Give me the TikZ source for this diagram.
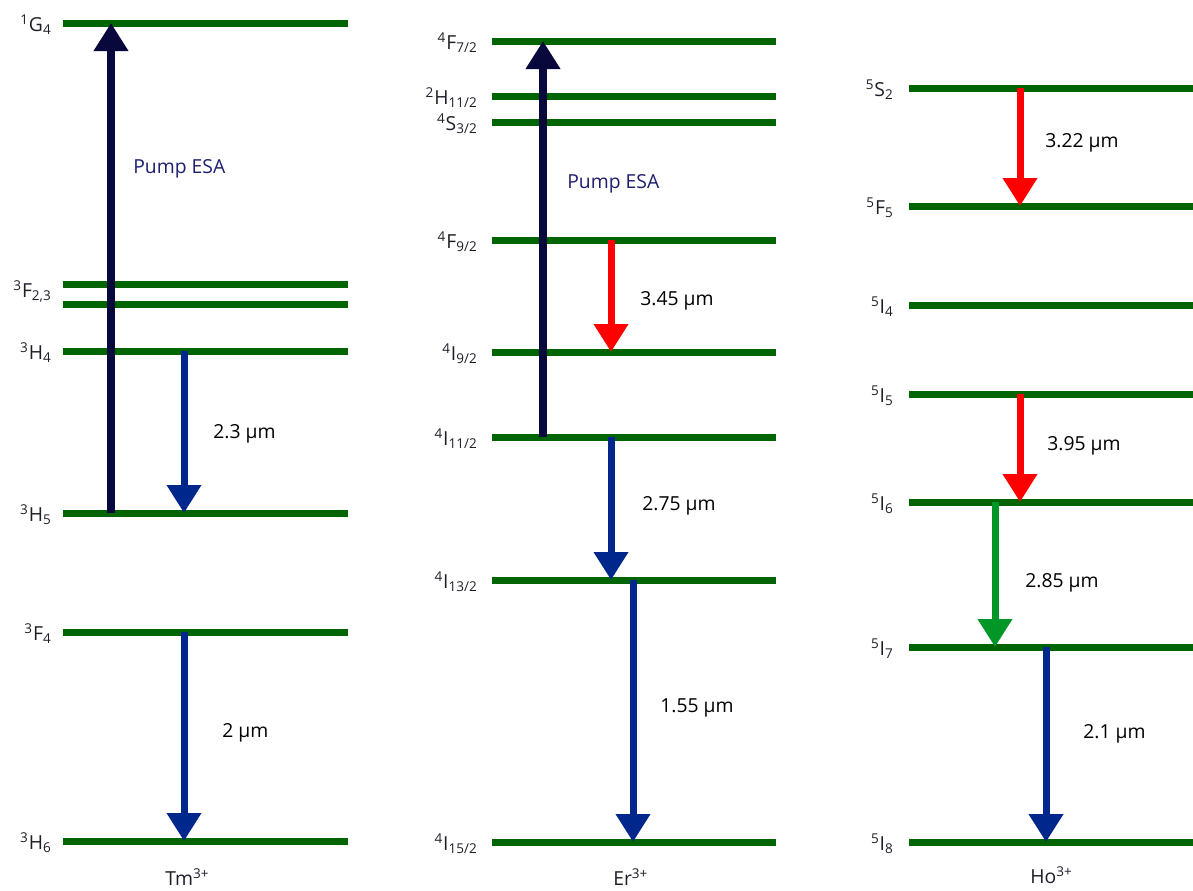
\documentclass[tikz,border=0pt]{standalone}
\usepackage{fontspec}
\setmainfont{Open Sans}
\usetikzlibrary{arrows.meta}

\definecolor{levelgreen}{RGB}{0,100,0}
\definecolor{pumpnavy}{RGB}{8,8,60}
\definecolor{pumptext}{RGB}{30,30,110}
\definecolor{emitblue}{RGB}{0,40,140}
\definecolor{emitred}{RGB}{255,0,0}
\definecolor{emitgreen}{RGB}{0,150,40}
\definecolor{labelgray}{RGB}{30,30,40}

\newcommand{\lblfont}{\fontsize{11}{13}\selectfont}

\begin{document}
\begin{tikzpicture}[x=0.02cm, y=-0.02cm,
        level/.style = {draw=levelgreen, line width=0.14cm},
        lvl/.style = {anchor=base east, inner sep=0pt, text=labelgray, font=\lblfont},
        wl/.style = {anchor=base west, inner sep=0pt, font=\lblfont},
        ion/.style = {anchor=base west, inner sep=0pt, text=labelgray, font=\lblfont},
        transition/.style = {line width=0.14cm,
            -{Triangle[length=0.56cm, width=0.66cm]}},
        pump/.style = {transition, draw=pumpnavy, line width=0.17cm},
        emit/.style = {transition, draw=#1}]

    \useasboundingbox (0,0) rectangle (1193,890);

    % Tm levels
    \foreach \n/\y/\t in {G4/23/{\textsuperscript{1}G\textsubscript{4}},
                          H4/351/{\textsuperscript{3}H\textsubscript{4}},
                          H5/513/{\textsuperscript{3}H\textsubscript{5}},
                          F4/632/{\textsuperscript{3}F\textsubscript{4}},
                          H6/841/{\textsuperscript{3}H\textsubscript{6}}} {
        \coordinate (tm\n) at (63,\y);
        \draw[level] (tm\n) -- ++(285,0);
        \node[lvl] (tm\n-lab) at (52,\y+8) {\t};
    }
    % the close pair 3F2 / 3F3 share one label
    \coordinate (tmF2) at (63,284);
    \coordinate (tmF3) at (63,304);
    \draw[level] (tmF2) -- ++(285,0);
    \draw[level] (tmF3) -- ++(285,0);
    \node[lvl] (tmF23-lab) at (52,297) {\textsuperscript{3}F\textsubscript{2,3}};
    \node[ion] (tm) at (165,885) {Tm\textsuperscript{3+}};

    % Er levels
    \foreach \n/\y/\t in {F72/41/{\textsuperscript{4}F\textsubscript{7/2}},
                          H112/96/{\textsuperscript{2}H\textsubscript{11/2}},
                          S32/122/{\textsuperscript{4}S\textsubscript{3/2}},
                          F92/240/{\textsuperscript{4}F\textsubscript{9/2}},
                          I92/352/{\textsuperscript{4}I\textsubscript{9/2}},
                          I112/437/{\textsuperscript{4}I\textsubscript{11/2}},
                          I132/580/{\textsuperscript{4}I\textsubscript{13/2}},
                          I152/842/{\textsuperscript{4}I\textsubscript{15/2}}} {
        \coordinate (er\n) at (492,\y);
        \draw[level] (er\n) -- ++(284,0);
        \node[lvl] (er\n-lab) at (478,\y+8) {\t};
    }
    \node[ion] (er) at (613,885) {Er\textsuperscript{3+}};

    % Ho levels
    \foreach \n/\y/\t in {S2/88/{\textsuperscript{5}S\textsubscript{2}},
                          F5/206/{\textsuperscript{5}F\textsubscript{5}},
                          I4/305/{\textsuperscript{5}I\textsubscript{4}},
                          I5/394/{\textsuperscript{5}I\textsubscript{5}},
                          I6/502/{\textsuperscript{5}I\textsubscript{6}},
                          I7/647/{\textsuperscript{5}I\textsubscript{7}},
                          I8/842/{\textsuperscript{5}I\textsubscript{8}}} {
        \coordinate (ho\n) at (909,\y);
        \draw[level] (ho\n) -- ++(284,0);
        \node[lvl] (ho\n-lab) at (894,\y+8) {\t};
    }
    \node[ion] (ho) at (1030,883) {Ho\textsuperscript{3+}};

    % arrow columns
    \coordinate (tmpump) at (111,0);
    \coordinate (tmemit) at (184,0);
    \coordinate (erpump) at (543,0);
    \coordinate (erred)  at (611,0);
    \coordinate (eremit) at (633,0);
    \coordinate (hored)  at (1020,0);
    \coordinate (hogrn)  at (995,0);
    \coordinate (hoemit) at (1046,0);

    % Tm transitions
    \draw[pump] (tmH5 -| tmpump) -- (tmG4 -| tmpump);
    \draw[emit=emitblue] (tmH4 -| tmemit) -- (tmH5 -| tmemit);
    \draw[emit=emitblue] (tmF4 -| tmemit) -- (tmH6 -| tmemit);
    \node[wl, text=pumptext] (tmpump-lab) at (133,173) {Pump ESA};
    \node[wl] (tm23-lab) at (213,438) {2.3 µm};
    \node[wl] (tm2-lab) at (222,737) {2 µm};

    % Er transitions
    \draw[pump] (erI112 -| erpump) -- (erF72 -| erpump);
    \draw[emit=emitred] (erF92 -| erred) -- (erI92 -| erred);
    \draw[emit=emitblue] (erI112 -| erred) -- (erI132 -| erred);
    \draw[emit=emitblue] (erI132 -| eremit) -- (erI152 -| eremit);
    \node[wl, text=pumptext] (erpump-lab) at (567,188) {Pump ESA};
    \node[wl] (er345-lab) at (640,305) {3.45 µm};
    \node[wl] (er275-lab) at (642,510) {2.75 µm};
    \node[wl] (er155-lab) at (660,712) {1.55 µm};

    % Ho transitions
    \draw[emit=emitred] (hoS2 -| hored) -- (hoF5 -| hored);
    \draw[emit=emitred] (hoI5 -| hored) -- (hoI6 -| hored);
    \draw[emit=emitgreen] (hoI6 -| hogrn) -- (hoI7 -| hogrn);
    \draw[emit=emitblue] (hoI7 -| hoemit) -- (hoI8 -| hoemit);
    \node[wl] (ho322-lab) at (1045,147) {3.22 µm};
    \node[wl] (ho395-lab) at (1047,450) {3.95 µm};
    \node[wl] (ho285-lab) at (1025,587) {2.85 µm};
    \node[wl] (ho21-lab) at (1083,738) {2.1 µm};

\end{tikzpicture}
\end{document}
